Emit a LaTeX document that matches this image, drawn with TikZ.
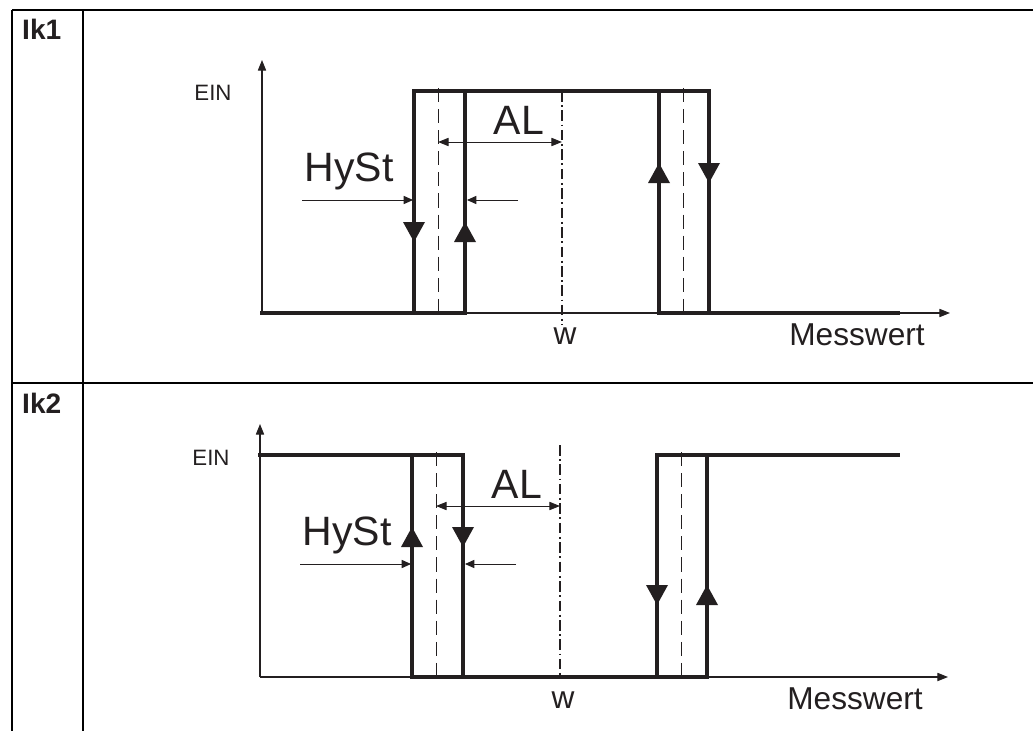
\documentclass[tikz,border=0pt]{standalone}
\usepackage{fontspec}
\setmainfont{Liberation Sans}
\usetikzlibrary{arrows.meta}
\definecolor{ink}{HTML}{231F20}

\begin{document}
\begin{tikzpicture}[
  x=0.03cm, y=-0.03cm,
  every node/.style={inner sep=0pt, text=ink},
  grid/.style={line width=1.2pt, draw=black},
  axis/.style={line width=0.9pt, draw=ink, -{Triangle[width=7pt, length=9pt]}},
  curve/.style={line width=2.6pt, draw=ink, line cap=rect},
  band/.style={line width=0.8pt, draw=ink, dash pattern=on 12pt off 6pt},
  setpt/.style={line width=1.6pt, draw=ink, dash pattern=on 9pt off 3pt on 1.6pt off 3pt},
  dim/.style={line width=0.8pt, draw=ink, {Triangle[width=7pt, length=9pt]}-{Triangle[width=7pt, length=9pt]}},
  pointer/.style={line width=0.8pt, draw=ink, -{Triangle[width=7pt, length=8pt]}},
  big/.style={font=\fontsize{35}{37}\selectfont, anchor=base},
  mid/.style={font=\fontsize{27}{29}\selectfont, anchor=base},
  small/.style={font=\fontsize{19}{21}\selectfont, anchor=base},
  rowhead/.style={font=\fontsize{24}{26}\selectfont\bfseries, anchor=base west},
  pics/upmark/.style={code={\fill[ink] (-11,10) -- (11,10) -- (0,-10) -- cycle;}},
  pics/downmark/.style={code={\fill[ink] (-11,-10) -- (11,-10) -- (0,10) -- cycle;}}
]
\useasboundingbox (0,0) rectangle (1033,731);

% table frame
\draw[grid] (12,10) -- (1033,10);
\draw[grid] (12,383) -- (1033,383);
\draw[grid] (12,10) -- (12,731);
\draw[grid] (83,10) -- (83,731);

% two switching characteristics, one per row
\foreach \panel/\dx/\dy/\hy/\wtop/\wbot in {1/0/0/40/91/325, 2/-2/364/49/81/314} {
  \begin{scope}[shift={(\dx,\dy)}]
    \node[rowhead] (head\panel) at (22-\dx,\hy) {Ik\panel};

    % axes
    \coordinate (o\panel) at (262,313);
    \draw[axis] (o\panel) -- (262,60);
    \draw[axis] (o\panel) -- (950,313);
    \node[small] (ein\panel) at (213,101) {EIN};
    \node[mid] (mw\panel) at (857,345) {Messwert};
    \node[mid] (w\panel) at (565,344) {w};

    % set point and band centres
    \draw[setpt] (562,\wtop) -- (562,\wbot);
    \draw[band] (438,88) -- (438,316);
    \draw[band] (683,88) -- (683,316);

    % relay output
    \ifnum\panel=1
      \draw[curve] (262,313) -- (414,313);
      \draw[curve] (465,91) -- (659,91);
      \draw[curve] (709,313) -- (898,313);
      \pic at (414,232) {downmark};
      \pic at (465,232) {upmark};
      \pic at (659,173) {upmark};
      \pic at (709,173) {downmark};
    \else
      \draw[curve] (262,91) -- (414,91);
      \draw[curve] (465,313) -- (659,313);
      \draw[curve] (709,91) -- (900,91);
      \pic at (414,173) {upmark};
      \pic at (465,173) {downmark};
      \pic at (659,231) {downmark};
      \pic at (709,231) {upmark};
    \fi
    \draw[curve] (414,313) rectangle (465,91);
    \draw[curve] (659,313) rectangle (709,91);

    % dimensions
    \coordinate (alL\panel) at (438,142);
    \coordinate (alR\panel) at (562,142);
    \draw[dim] (alL\panel) -- (alR\panel);
    \node[big] (al\panel) at (519,134) {AL};
    \node[big] (hy\panel) at (349,181) {HySt};
    \coordinate (hyL\panel) at (302,200);
    \coordinate (hyR\panel) at (518,200);
    \draw[pointer] (hyL\panel) -- (413,200);
    \draw[pointer] (hyR\panel) -- (467,200);
  \end{scope}
}
\end{tikzpicture}
\end{document}
